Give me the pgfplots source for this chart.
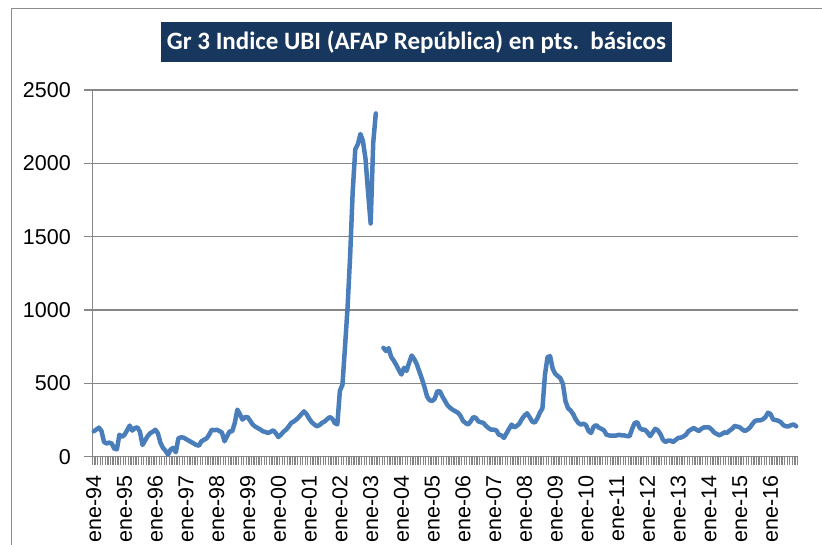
\documentclass[border=0pt]{standalone}
\usepackage{pgfplots}
\usepackage{pgfplotstable}
\pgfplotsset{compat=1.18}
\usepackage{fontspec}
\setmainfont{Liberation Sans}
\newfontfamily\titlefont{Carlito}
\definecolor{gridgray}{RGB}{134,134,134}
\definecolor{framegray}{RGB}{140,140,140}
\definecolor{ubiblue}{RGB}{74,126,187}
\definecolor{navy}{RGB}{23,55,94}

\pgfplotstableread{
i v
0 173
1 185
2 198
3 175
4 100
5 90
6 96
7 90
8 55
9 50
10 150
11 135
12 150
13 180
14 212
15 178
16 195
17 200
18 170
19 80
20 110
21 140
22 160
23 170
24 184
25 160
26 95
27 60
28 40
29 14
30 50
31 60
32 30
33 125
34 132
35 130
36 120
37 110
38 100
39 90
40 80
41 75
42 105
43 115
44 125
45 150
46 184
47 180
48 184
49 175
50 164
51 105
52 140
53 173
54 173
55 230
56 321
57 290
58 253
59 270
60 270
61 245
62 219
63 205
64 195
65 185
66 173
67 168
68 162
69 170
70 180
71 160
72 134
73 150
74 170
75 184
76 205
77 230
78 240
79 253
80 270
81 290
82 309
83 290
84 260
85 235
86 220
87 207
88 215
89 230
90 240
91 255
92 270
93 260
94 230
95 220
96 450
97 490
98 750
99 1020
100 1370
101 1810
102 2095
103 2130
104 2200
105 2150
106 2030
107 1800
108 1590
109 2140
110 2340
111 nan
112 nan
113 742
114 720
115 740
116 680
117 655
118 625
119 590
120 560
121 606
122 585
123 640
124 690
125 665
126 630
127 580
128 530
129 475
130 410
131 385
132 380
133 395
134 446
135 446
136 410
137 380
138 350
139 333
140 320
141 310
142 300
143 280
144 245
145 230
146 219
147 240
148 270
149 265
150 241
151 235
152 230
153 210
154 195
155 184
156 184
157 180
158 150
159 145
160 128
161 160
162 190
163 219
164 200
165 210
166 225
167 257
168 280
169 296
170 270
171 240
172 232
173 260
174 300
175 330
176 560
177 680
178 685
179 600
180 565
181 550
182 535
183 495
184 378
185 330
186 315
187 290
188 255
189 230
190 219
191 225
192 215
193 175
194 162
195 205
196 215
197 198
198 190
199 180
200 150
201 145
202 143
203 143
204 145
205 150
206 145
207 145
208 140
209 140
210 190
211 230
212 235
213 195
214 184
215 184
216 165
217 140
218 165
219 190
220 180
221 155
222 116
223 100
224 110
225 110
226 100
227 115
228 128
229 130
230 138
231 150
232 175
233 185
234 196
235 185
236 175
237 190
238 200
239 200
240 200
241 185
242 165
243 155
244 146
245 155
246 166
247 162
248 178
249 190
250 210
251 205
252 200
253 185
254 175
255 185
256 200
257 225
258 245
259 248
260 248
261 255
262 270
263 300
264 290
265 253
266 250
267 245
268 235
269 215
270 207
271 207
272 215
273 220
274 207
}\ubidata

\begin{document}
\begin{tikzpicture}
\path[use as bounding box] (0pt,0pt) rectangle (822pt,545pt);
\draw[framegray, line width=1.5pt] (11.7pt,-2pt) -- (11.7pt,536.7pt) -- (824pt,536.7pt);
\node[fill=navy, text=white, minimum width=511pt, minimum height=40pt, inner sep=0pt,
  font=\titlefont\bfseries\fontsize{25}{30}\selectfont] at (416.5pt,502.7pt)
  {Gr 3 Indice UBI (AFAP República) en pts.\ \ básicos};
\begin{axis}[
  at={(92.5pt,88.3pt)}, anchor=south west,
  scale only axis, width=705pt, height=366.7pt,
  xmin=-0.5, xmax=274.5, ymin=0, ymax=2500,
  axis x line*=bottom, axis y line*=left,
  axis line style={draw=gridgray, line width=1.5pt},
  tick align=outside,
  ytick={0,500,...,2500},
  ymajorgrids,
  grid style={gridgray, line width=1.5pt},
  xtick={0,12,...,264},
  xticklabels={ene-94,ene-95,ene-96,ene-97,ene-98,ene-99,ene-00,ene-01,ene-02,ene-03,ene-04,ene-05,ene-06,ene-07,ene-08,ene-09,ene-10,ene-11,ene-12,ene-13,ene-14,ene-15,ene-16},
  minor xtick={-0.5,0.5,...,274.5},
  major tick length=8.5pt,
  minor tick length=8.5pt,
  major x tick style={draw=none},
  minor x tick style={gridgray, line width=1.3pt},
  major y tick style={gridgray, line width=1.5pt},
  ticklabel style={font=\fontsize{21.5}{24}\selectfont, text=black},
  /pgf/number format/assume math mode=true,
  /pgf/number format/1000 sep={},
  yticklabel style={inner sep=0pt, anchor=east},
  yticklabel shift=13pt,
  xticklabel style={rotate=90, anchor=east, inner sep=0pt},
  xticklabel shift=10.5pt,
  unbounded coords=jump,
  clip=false,
]
\addplot[color=ubiblue, line width=4.5pt, line join=round, line cap=round] table[x=i, y=v] {\ubidata};
\end{axis}
\end{tikzpicture}
\end{document}
